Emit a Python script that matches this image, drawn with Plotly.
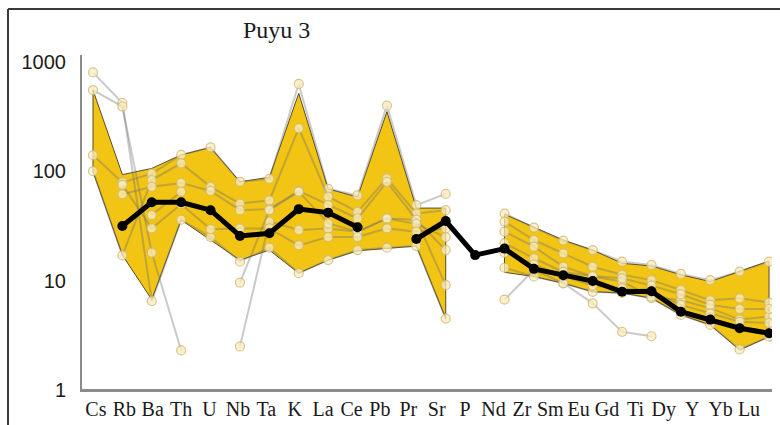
import math
import plotly.graph_objects as go

# Trace elements, primitive-mantle normalised spider diagram
elements = ["Cs", "Rb", "Ba", "Th", "U", "Nb", "Ta", "K", "La", "Ce", "Pb", "Pr",
            "Sr", "P", "Nd", "Zr", "Sm", "Eu", "Gd", "Ti", "Dy", "Y", "Yb", "Lu"]

# Reference field (upper / lower bounds); gap at P
field_upper = [552, 93, 106, 141, 165, 80, 88, 515, 69, 58, 350, 46, 46, None,
               40.4, 30.7, 23.5, 19.0, 14.4, 13.6, 11.3, 9.8, 12.1, 15.1]
field_lower = [99, 17.1, 6.7, 35.8, 23.5, 15.4, 19.0, 11.7, 15.4, 18.7, 19.7, 20.7, 4.5, None,
               11.9, 10.9, 9.45, 7.9, 7.7, 6.9, 4.85, 3.93, 2.32, 3.07]

# Average composition
average = [None, 31.6, 52, 52, 44, 25.6, 27.1, 45, 41.8, 30.7, None, 24.0,
           35, 17.1, 19.6, 12.8, 11.2, 9.9, 7.9, 8.0, 5.2, 4.4, 3.67, 3.3]

# Individual samples
sample_1 = [800, 420, 6.5, 36, 25, 14.9, 20, 11.7, 15.4, 19, 20, 20.7, 4.5, None,
            13.1, 10.9, 9.45, 7.9, 7.7, 6.9, 4.85, 3.93, 2.35, 3.07]
sample_2 = [550, 390, 18, 2.3, None, 2.5, 34.6, 29, 30, 28, 37, 36, 9.1, None,
            6.7, 12.5, 9.5, 6.2, 3.4, 3.1, None, None, None, None]
sample_3 = [140, 79, 95, 141, 165, 80, 85, 627, 69, 60, 397, 49, 62, None,
            41, 30.5, 23.2, 19, 14.9, 13.9, 11.5, 10.1, 12.1, 14.9]
sample_4 = [100, 17, 83, 118, 72, 50.6, 54, 247, 58.5, 42.5, 86, 41, 44, None,
            34.6, 23.5, 17.7, 13.4, 11.3, 10.1, 8.2, 6.6, 6.9, 6.3]
sample_5 = [None, 61.5, 72, 78, 66, 44, 45, 66, 49, 37, 80, 36, 19, None,
            28, 20.4, 13.4, 10.9, 9.8, 7.1, 6.6, 5.6, 4.4, 4.7]
sample_6 = [None, None, 39.7, 65, None, 9.6, 44, 65, 33.3, 28, 37, 33, 25, None,
            22, 16, 12, 11, 10.5, 9, 7.5, 6, 5.5, 5.5]
sample_7 = [None, 75, 30, 50, 29.5, 30, 30, 21, 25, 25, 30, 28, 30, None,
            18, 14, 11, 9, 8.5, 8, 6, 5, 4.2, 4.1]
samples = [sample_1, sample_2, sample_3, sample_4, sample_5, sample_6, sample_7]

idx = list(range(len(elements)))
# Element labels sit on a slightly tighter pitch than the data columns
label_pos = [0.1 + 0.966 * i for i in idx]

fig = go.Figure()

# Field polygons, one per contiguous run of defined bounds
runs, cur = [], []
for i, (u, l) in enumerate(zip(field_upper, field_lower)):
    if u is None or l is None:
        if cur:
            runs.append(cur)
        cur = []
    else:
        cur.append(i)
if cur:
    runs.append(cur)

for run in runs:
    xs = run + run[::-1] + [run[0]]
    ys = [field_upper[i] for i in run] + [field_lower[i] for i in run[::-1]] + [field_upper[run[0]]]
    fig.add_trace(go.Scatter(
        x=xs, y=ys, mode="lines", fill="toself",
        fillcolor="#F2C414", line=dict(color="rgba(70,60,30,0.9)", width=1),
        hoverinfo="skip", showlegend=False))

for s in samples:
    fig.add_trace(go.Scatter(
        x=idx, y=s, mode="lines+markers",
        line=dict(color="rgba(108,108,108,0.36)", width=2),
        marker=dict(symbol="circle", size=9, color="rgba(250,236,190,0.75)",
                    line=dict(color="rgba(205,185,120,0.8)", width=1.2)),
        showlegend=False))

fig.add_trace(go.Scatter(
    x=idx, y=average, mode="lines+markers",
    line=dict(color="black", width=5),
    marker=dict(symbol="circle", size=10, color="black"),
    showlegend=False))

# Chart frame (left and top edges)
fx0 = (8 - 82) / 690
fig.add_shape(type="line", xref="paper", yref="paper", x0=fx0, x1=fx0, y0=1.137, y1=-0.2,
              line=dict(color="#3a3a3a", width=2))
fig.add_shape(type="line", xref="paper", yref="paper", x0=fx0, x1=1.05, y0=1.137, y1=1.137,
              line=dict(color="#3a3a3a", width=2))
# Reference line at 10 (log axis: position given as log10)
fig.add_shape(type="line", xref="paper", yref="y", x0=0, x1=1,
              y0=math.log10(10), y1=math.log10(10),
              line=dict(color="#8c8c8c", width=2), layer="below")

fig.add_annotation(text="Puyu 3", xref="paper", yref="paper",
                   x=(276 - 82) / 690, y=(390 - 30) / 335,
                   xanchor="center", yanchor="middle", showarrow=False,
                   font=dict(family="Liberation Serif", size=24, color="#1a1a1a"))

fig.update_layout(
    width=780, height=425,
    margin=dict(l=82, r=8, t=55, b=35, autoexpand=False),
    paper_bgcolor="white", plot_bgcolor="white",
    xaxis=dict(range=[-0.374, 23.1], tickmode="array", tickvals=label_pos, ticktext=elements,
               showgrid=False, zeroline=False, showline=True, linecolor="#8c8c8c",
               linewidth=2, ticks="", ticklabeloverflow="allow", automargin=False,
               tickfont=dict(family="Liberation Serif", size=20, color="#1a1a1a")),
    yaxis=dict(type="log", range=[0, 3.062], tickmode="array",
               tickvals=[1, 10, 100, 1000], ticktext=["1", "10", "100", "1000"],
               showgrid=False, zeroline=False, showline=True, linecolor="#8c8c8c",
               linewidth=2, ticks="", ticklabelstandoff=10, automargin=False,
               tickfont=dict(family="Liberation Sans", size=20, color="#1a1a1a")),
)

fig.write_html("out.html")
